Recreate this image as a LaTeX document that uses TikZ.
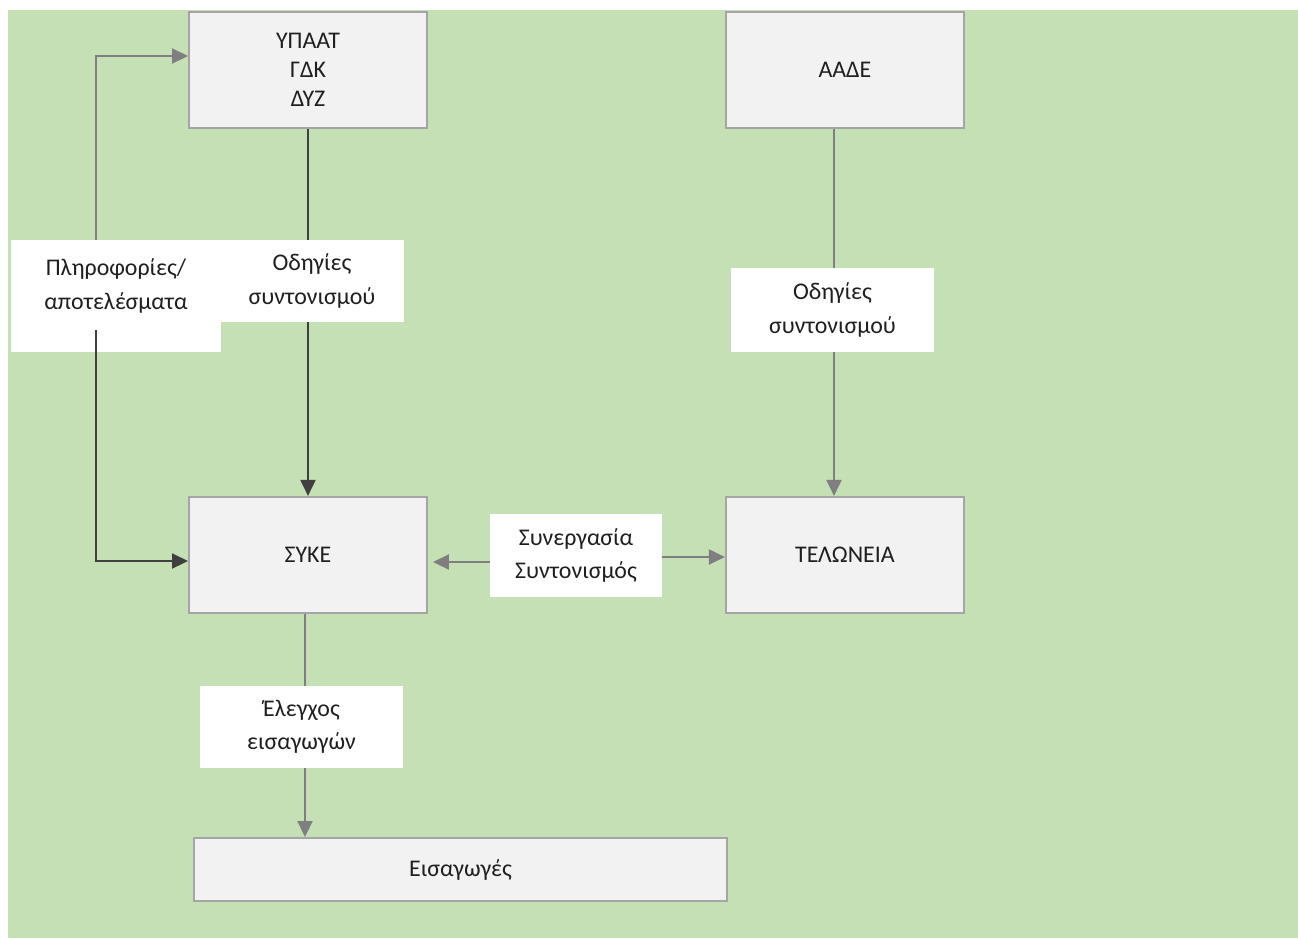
\documentclass[tikz,border=0pt]{standalone}
\usepackage{fontspec}
\setmainfont{Carlito}
\usepackage{tikz}
\usetikzlibrary{positioning,arrows.meta}
\definecolor{bggreen}{HTML}{C5E0B4}
\definecolor{boxfill}{HTML}{F2F2F2}
\definecolor{boxline}{HTML}{A5A5A5}
\definecolor{lightarrow}{HTML}{7F7F7F}
\definecolor{darkarrow}{HTML}{404040}
\definecolor{txt}{HTML}{1F1F1F}

\begin{document}
\begin{tikzpicture}
[x=0.02cm,y=-0.02cm,>={Triangle[length=0.32cm,width=0.3cm]},
box/.style={draw=boxline, fill=boxfill, line width=0.04cm, minimum width=4.76cm, minimum height=2.32cm, align=center, text=txt, font=\fontsize{13.6}{16.4}\selectfont},
lbl/.style={fill=white, minimum height=1.64cm, align=center, text=txt, font=\fontsize{13.6}{19}\selectfont},
conn/.style={draw=lightarrow, line width=0.04cm},
darkconn/.style={draw=darkarrow, line width=0.04cm}]
\useasboundingbox (0,0) rectangle (1298,938);
\fill[bggreen] (8,10) rectangle (1298,938);

\node[box] (ypaat) at (308,70) {ΥΠΑΑΤ\\ΓΔΚ\\ΔΥΖ};
\node[box, right=5.94cm of ypaat] (aade) {ΑΑΔΕ};
\node[box, below=7.34cm of ypaat] (syke) {ΣΥΚΕ};
\node[box, right=5.94cm of syke] (telonia) {ΤΕΛΩΝΕΙΑ};
\node[box, minimum width=10.66cm, minimum height=1.26cm] (imports) at (460.5,869.5) {Εισαγωγές};

\draw[darkconn,->] (ypaat) -- (syke);
\draw[conn,->] (aade.south -| 834,0) -- (telonia.north -| 834,0);
\draw[conn,->] (syke.south -| 305,0) -- (imports.north -| 305,0);

% labels on the connectors
\node[lbl, inner sep=0pt] (info) at (116,296) {\parbox[c][2.24cm][t]{4.2cm}{\centering\vspace{0.38cm}Πληροφορίες/\\αποτελέσματα}};
\node[lbl, minimum width=3.68cm] (instrL) at (312,281) {Οδηγίες\\συντονισμού};
\node[lbl, minimum width=4.08cm, minimum height=1.68cm] (instrR) at (832.5,310) {Οδηγίες\\συντονισμού};
\node[lbl, minimum width=3.44cm, minimum height=1.66cm] (coop) at (576,555.5) {Συνεργασία\\Συντονισμός};
\node[lbl, minimum width=4.06cm] (check) at (301.5,727) {Έλεγχος\\εισαγωγών};

\draw[conn,->] (info.north -| 96,0) |- (ypaat.west |- 0,56);
\draw[darkconn,->] (info.center -| 96,0) ++(0,34) |- (syke.west |- 0,561);
\draw[conn,->,shorten >=0.1cm] (coop.west |- 0,562) -- (syke.east |- 0,562);
\draw[conn,->] (coop.east |- 0,557) -- (telonia.west |- 0,557);
\end{tikzpicture}
\end{document}
